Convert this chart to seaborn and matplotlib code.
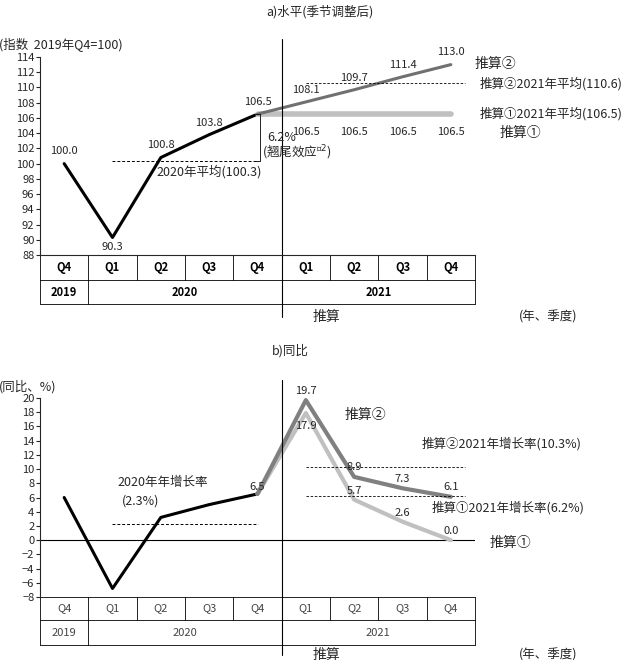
import numpy as np
import seaborn as sns
import matplotlib
matplotlib.use('Agg')
import matplotlib.pyplot as plt

sns.set_style('white')
plt.rcParams['font.family'] = ['Noto Sans CJK SC', 'DejaVu Sans']

quarters = ['Q4', 'Q1', 'Q2', 'Q3', 'Q4', 'Q1', 'Q2', 'Q3', 'Q4']
years = ['2019', '2020', '2021']
level_actual = [100.0, 90.3, 100.8, 103.8, 106.5]
level_case2 = [106.5, 108.1, 109.7, 111.4, 113.0]
level_case1 = [106.5, 106.5, 106.5, 106.5, 106.5]
yoy_actual = [6.0, -6.8, 3.2, 5.0, 6.5]
yoy_case2 = [6.5, 19.7, 8.9, 7.3, 6.1]
yoy_case1 = [6.5, 17.9, 5.7, 2.6, 0.0]

W, H = 634, 660
fig = plt.figure(figsize=(W / 100, H / 100), dpi=100)
xa = np.arange(5)
xf = np.arange(4, 9)


def make_ax(top, bottom):
    ax = fig.add_axes([40 / W, (H - bottom) / H, 435 / W, (bottom - top) / H])
    ax.set_xlim(-0.5, 8.5)
    for s in ['top', 'right']:
        ax.spines[s].set_visible(False)
    ax.set_xticks([])
    ax.tick_params(axis='y', labelsize=8, length=3, direction='out', left=True, pad=1)
    return ax


def table(ax, top, bottom, r1, r2, r3, color):
    # quarter/year labels below the axes, rows given in pixels
    h = bottom - top
    f = lambda py: (bottom - py) / h
    kw = dict(transform=ax.get_xaxis_transform(), clip_on=False)
    wt = 'bold' if color == 'k' else 'normal'
    for i, q in enumerate(quarters):
        ax.text(i, f((r1 + r2) / 2), q, ha='center', va='center', fontsize=8, color=color,
                fontweight=wt, **kw)
    for x, y in zip([0, 2.5, 6.5], years):
        ax.text(x, f((r2 + r3) / 2), y, ha='center', va='center', fontsize=8, color=color,
                fontweight=wt, **kw)
    for i in np.arange(-0.5, 9, 1):
        ax.plot([i, i], [f(r1), f(r2)], color='k', lw=0.6, **kw)
    for i in [-0.5, 0.5, 4.5, 8.5]:
        ax.plot([i, i], [f(r2), f(r3)], color='k', lw=0.6, **kw)
    for r in [r1, r2, r3]:
        ax.plot([-0.5, 8.5], [f(r), f(r)], color='k', lw=0.6, **kw)


# ---- a) level
t1, b1 = 57, 255
ax1 = make_ax(t1, b1)
ax1.set_ylim(88, 114)
ax1.set_yticks(range(88, 115, 2))
sns.lineplot(x=xa, y=level_actual, color='k', lw=2.2, ax=ax1)
sns.lineplot(x=xf, y=level_case1, color='#c0c0c0', lw=4, ax=ax1)
sns.lineplot(x=xf, y=level_case2, color='#707070', lw=2.2, ax=ax1)
ax1.plot([1, 4], [100.3, 100.3], color='k', ls='--', lw=0.7, dashes=(3, 2))
ax1.plot([5, 8.3], [110.6, 110.6], color='k', ls='--', lw=0.6, dashes=(3, 2))
for x, v in zip(xa, level_actual):
    ax1.text(x, v + (-1.7 if x == 1 else 1.2), f'{v:.1f}', ha='center', fontsize=8)
for x, v in zip(xf[1:], level_case2[1:]):
    ax1.text(x, v + 1.2, f'{v:.1f}', ha='center', fontsize=8)
for x in xf[1:]:
    ax1.text(x, 103.8, '106.5', ha='center', fontsize=8)
ax1.plot([3.95, 4.05, 4.05, 3.95], [106.5, 106.5, 100.3, 100.3], color='k', lw=0.6)
ax1.text(4.2, 103.0, '6.2%', fontsize=9)
ax1.text(4.1, 100.9, '(翘尾效应$^{注2}$)', fontsize=9)
ax1.text(1.9, 98.4, '2020年平均(100.3)', fontsize=9)
ax1.text(8.5, 112.5, '推算②', fontsize=10, clip_on=False)
ax1.text(8.6, 110.0, '推算②2021年平均(110.6)', fontsize=9, clip_on=False)
ax1.text(8.6, 106.0, '推算①2021年平均(106.5)', fontsize=9, clip_on=False)
ax1.text(9.0, 103.5, '推算①', fontsize=10, clip_on=False)
ax1.text(-1.35, 115.0, '(指数  2019年Q4=100)', fontsize=9, clip_on=False)
table(ax1, t1, b1, 255, 280, 304, 'k')
fig.text(320 / W, 1 - 12 / H, 'a)水平(季节调整后)', ha='center', va='center', fontsize=9)

# ---- b) yoy
t2, b2 = 398, 597
ax2 = make_ax(t2, b2)
ax2.set_ylim(-8, 20)
ax2.set_yticks(range(-8, 21, 2))
ax2.spines['bottom'].set_visible(False)
ax2.axhline(0, color='k', lw=0.8)
sns.lineplot(x=xa, y=yoy_actual, color='k', lw=2.2, ax=ax2)
sns.lineplot(x=xf, y=yoy_case1, color='#c0c0c0', lw=3, ax=ax2)
sns.lineplot(x=xf, y=yoy_case2, color='#808080', lw=3, ax=ax2)
ax2.plot([1, 4], [2.3, 2.3], color='k', ls='--', lw=0.7, dashes=(3, 2))
ax2.plot([5, 8.3], [10.3, 10.3], color='k', ls='--', lw=0.6, dashes=(3, 2))
ax2.plot([5, 8.3], [6.2, 6.2], color='k', ls='--', lw=0.6, dashes=(3, 2))
ax2.text(4.0, 7.0, '6.5', ha='center', fontsize=8)
for x, v in zip(xf[1:], yoy_case2[1:]):
    ax2.text(x, v + 0.9, f'{v:.1f}', ha='center', fontsize=8)
for x, v in zip(xf[1:], yoy_case1[1:]):
    ax2.text(x, v - 2.2 if x == 5 else v + 0.8, f'{v:.1f}', ha='center', fontsize=8)
ax2.text(8.8, -1.0, '推算①', fontsize=10, clip_on=False)
ax2.text(5.8, 17.0, '推算②', fontsize=10)
ax2.text(7.4, 13.0, '推算②2021年增长率(10.3%)', fontsize=9, clip_on=False)
ax2.annotate('', xy=(7.6, 10.6), xytext=(7.6, 12.6), arrowprops=dict(arrowstyle='->', lw=0.6))
ax2.text(7.6, 4.0, '推算①2021年增长率(6.2%)', fontsize=9, clip_on=False)
ax2.annotate('', xy=(7.5, 6.0), xytext=(7.5, 4.0), arrowprops=dict(arrowstyle='->', lw=0.6))
ax2.text(1.1, 7.6, '2020年年增长率', fontsize=9)
ax2.text(1.2, 5.0, '(2.3%)', fontsize=9)
ax2.annotate('', xy=(1.3, 2.6), xytext=(1.3, 4.6), arrowprops=dict(arrowstyle='->', lw=0.6))
ax2.text(-1.35, 21.0, '(同比、%)', fontsize=9, clip_on=False)
table(ax2, t2, b2, 597, 620, 645, '#444444')
fig.text(290 / W, 1 - 351 / H, 'b)同比', ha='center', va='center', fontsize=9)

# forecast dividers
for ax, t, b, ya in [(ax1, t1, b1, 307), (ax2, t2, b2, 645)]:
    h = b - t
    kw = dict(transform=ax.get_xaxis_transform(), clip_on=False)
    yb = (b - ya - 10) / h
    ax.plot([4.5, 4.5], [(b - (t - 18)) / h, yb], color='k', lw=0.8, **kw)
    ax.annotate('', xy=(5.0, yb), xytext=(4.5, yb), xycoords=ax.get_xaxis_transform(),
                arrowprops=dict(arrowstyle='->', lw=0.8), annotation_clip=False)
    ax.text(5.15, yb, '推算', va='center', fontsize=10, **kw)
    ax.text(9.4, yb, '(年、季度)', va='center', fontsize=9, **kw)

fig.savefig('out.png', dpi=100)
